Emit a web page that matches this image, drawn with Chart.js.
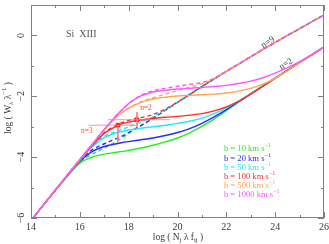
<!DOCTYPE html>
<html><head><meta charset="utf-8">
<script src="https://cdn.jsdelivr.net/npm/chart.js@4.4.0/dist/chart.umd.min.js"></script>
<style>html,body{margin:0;padding:0;background:#fff}#wrap{width:329px;height:244px;position:relative}</style>
</head><body><div id="wrap"><canvas id="c"></canvas></div>
<script>
// ---- data ----
const logN = [14, 15, 15.5, 16, 16.5, 17, 17.5, 17.75, 18, 18.5, 19, 19.5, 20, 20.5, 21, 21.5, 22, 22.5, 23, 23.5, 24, 24.5, 25, 25.5, 26];

// solid curves (n=2 damping)
const b10_n2   = [-6.08,-5.09,-4.62,-4.20,-4.00,-3.90,-3.84,-3.81,-3.78,-3.70,-3.61,-3.50,-3.37,-3.20,-2.99,-2.74,-2.47,-2.19,-1.92,-1.66,-1.40,-1.15,-0.89,-0.64,-0.38];
const b20_n2   = [-6.08,-5.09,-4.60,-4.14,-3.82,-3.65,-3.56,-3.52,-3.49,-3.43,-3.37,-3.29,-3.19,-3.06,-2.89,-2.68,-2.44,-2.18,-1.92,-1.66,-1.40,-1.15,-0.89,-0.64,-0.38];
const b50_n2   = [-6.08,-5.08,-4.59,-4.11,-3.67,-3.36,-3.20,-3.15,-3.11,-3.05,-3.00,-2.95,-2.89,-2.82,-2.72,-2.57,-2.38,-2.16,-1.91,-1.66,-1.40,-1.15,-0.89,-0.64,-0.38];
const b100_n2  = [-6.08,-5.08,-4.58,-4.09,-3.63,-3.22,-2.98,-2.90,-2.85,-2.78,-2.73,-2.69,-2.66,-2.62,-2.57,-2.48,-2.35,-2.17,-1.93,-1.67,-1.41,-1.15,-0.89,-0.64,-0.38];
const b500_n2  = [-6.08,-5.08,-4.58,-4.08,-3.59,-3.10,-2.68,-2.52,-2.39,-2.20,-2.09,-2.03,-1.99,-1.97,-1.95,-1.93,-1.89,-1.83,-1.74,-1.60,-1.41,-1.16,-0.90,-0.64,-0.38];
const b1000_n2 = [-6.08,-5.08,-4.58,-4.08,-3.58,-3.09,-2.63,-2.43,-2.24,-1.99,-1.86,-1.80,-1.76,-1.74,-1.71,-1.68,-1.64,-1.58,-1.50,-1.39,-1.24,-1.06,-0.86,-0.63,-0.38];

// dashed curves (n=9 damping)
const b10_n9   = [-6.08,-5.09,-4.60,-4.15,-3.90,-3.70,-3.48,-3.36,-3.22,-2.97,-2.72,-2.46,-2.20,-1.94,-1.68,-1.43,-1.18,-0.94,-0.70,-0.46,-0.23,0.00,0.22,0.45,0.67];
const b20_n9   = [-6.08,-5.09,-4.60,-4.11,-3.76,-3.56,-3.39,-3.30,-3.19,-2.96,-2.72,-2.46,-2.20,-1.94,-1.68,-1.43,-1.18,-0.94,-0.70,-0.46,-0.23,0.00,0.22,0.45,0.67];
const b50_n9   = [-6.08,-5.08,-4.59,-4.10,-3.64,-3.32,-3.15,-3.08,-3.00,-2.85,-2.67,-2.45,-2.20,-1.94,-1.68,-1.43,-1.18,-0.94,-0.70,-0.46,-0.23,0.00,0.22,0.45,0.67];
const b100_n9  = [-6.08,-5.08,-4.58,-4.09,-3.62,-3.20,-2.95,-2.86,-2.79,-2.70,-2.60,-2.42,-2.19,-1.94,-1.68,-1.43,-1.18,-0.94,-0.70,-0.46,-0.23,0.00,0.22,0.45,0.67];
const b500_n9  = [-6.08,-5.08,-4.58,-4.08,-3.59,-3.10,-2.68,-2.52,-2.39,-2.18,-2.05,-1.93,-1.81,-1.70,-1.59,-1.42,-1.18,-0.94,-0.70,-0.46,-0.23,0.00,0.22,0.45,0.67];
const b1000_n9 = [-6.08,-5.08,-4.58,-4.08,-3.58,-3.09,-2.63,-2.43,-2.24,-1.97,-1.82,-1.74,-1.67,-1.61,-1.55,-1.41,-1.18,-0.94,-0.70,-0.46,-0.23,0.00,0.22,0.45,0.67];

// red marked points (n=3, n=2) and their bars
const markX = [17.56, 18.34];
const markY = [-2.95, -2.77];
const barH1X = [16.35, 18.35], barH1Y = [-2.95, -2.95];
const barV1X = [17.56, 17.56], barV1Y = [-2.95, -3.52];
const barH2X = [17.15, 19.70], barH2Y = [-2.77, -2.77];
const barV2X = [18.34, 18.34], barV2Y = [-2.52, -3.00];

const bLabels = ['10', '20', '50', '100', '500', '1000'];
const xTickLabels = ['14', '16', '18', '20', '22', '24', '26'];
const yTickLabels = ['−6', '−4', '−2', '0'];
const yTickValues = [-6, -4, -2, 0];

// ---- build ----
const colors = ['#22ee22', '#2a2aff', '#22e8f0', '#ff2a2a', '#ffa64d', '#ff55ff'];
const solid = [b10_n2, b20_n2, b50_n2, b100_n2, b500_n2, b1000_n2];
const dashed = [b10_n9, b20_n9, b50_n9, b100_n9, b500_n9, b1000_n9];
const pts = (xs, ys) => xs.map((x, i) => ({x, y: ys[i]}));

const datasets = [];
const barColor = '#ff7a7a';
[[barH1X, barH1Y], [barV1X, barV1Y], [barH2X, barH2Y], [barV2X, barV2Y]].forEach(([xs, ys]) => {
  datasets.push({data: pts(xs, ys), showLine: true, borderColor: barColor, borderWidth: 0.8, pointRadius: 0, order: 0});
});
datasets.push({data: pts(markX, markY), showLine: false, pointStyle: 'rect', pointRadius: 2.6, backgroundColor: '#ff1a1a', borderColor: '#ff1a1a', order: 0});
solid.forEach((ys, i) => datasets.push({
  data: pts(logN, ys), showLine: true, borderColor: colors[i], borderWidth: 1.4,
  pointRadius: 0, cubicInterpolationMode: 'monotone', order: 6 - i
}));
dashed.forEach((ys, i) => datasets.push({
  data: pts(logN, ys), showLine: true, borderColor: colors[i], borderWidth: 1.4, borderDash: [4, 3],
  pointRadius: 0, cubicInterpolationMode: 'monotone', order: 12 - i
}));

const SERIF = '"Liberation Serif", "DejaVu Serif", serif';
const INK = '#3a3a3a';

function richText(ctx, x, y, parts, size, align) {
  let w = 0;
  const meas = parts.map(([t, m]) => { ctx.font = (m ? size * 0.7 : size) + 'px ' + SERIF; const mw = ctx.measureText(t).width; w += mw; return mw; });
  let cx = align === 'center' ? x - w / 2 : x;
  ctx.textAlign = 'left';
  parts.forEach(([t, m], i) => {
    ctx.font = (m ? size * 0.7 : size) + 'px ' + SERIF;
    const dy = m === -1 ? size * 0.3 : (m === 1 ? -size * 0.4 : 0);
    ctx.fillText(t, cx, y + dy);
    cx += meas[i];
  });
}

const decor = {
  id: 'decor',
  afterDatasetsDraw(chart) {
    const {ctx, chartArea: a, scales: {x, y}} = chart;
    ctx.save();
    ctx.strokeStyle = '#808080';
    ctx.lineWidth = 1;
    ctx.strokeRect(a.left + 0.5, a.top + 0.5, a.right - a.left - 1, a.bottom - a.top - 1);
    ctx.beginPath();
    for (let v = 14; v <= 26; v++) {
      const px = Math.round(x.getPixelForValue(v)) + 0.5;
      const L = v % 2 === 0 ? 6 : 3;
      ctx.moveTo(px, a.bottom); ctx.lineTo(px, a.bottom - L);
      ctx.moveTo(px, a.top); ctx.lineTo(px, a.top + L);
    }
    for (let v = -6; v <= 1; v++) {
      const py = Math.round(y.getPixelForValue(v)) + 0.5;
      const L = v % 2 === 0 ? 6 : 3;
      ctx.moveTo(a.left, py); ctx.lineTo(a.left + L, py);
      ctx.moveTo(a.right, py); ctx.lineTo(a.right - L, py);
    }
    ctx.stroke();

    ctx.textBaseline = 'middle';
    ctx.fillStyle = INK;
    richText(ctx, 178, 237, [['log ( N', 0], ['j', -1], [' λ f', 0], ['ij', -1], [' )', 0]], 9.5, 'center');
    ctx.save();
    ctx.translate(8, 108);
    ctx.rotate(-Math.PI / 2);
    richText(ctx, 0, 0, [['log ( W', 0], ['λ', -1], [' λ', 0], ['−1', 1], [' )', 0]], 9.5, 'center');
    ctx.restore();

    ctx.fillStyle = '#555';
    ctx.font = '10px ' + SERIF;
    ctx.textAlign = 'left';
    ctx.fillText('Si  XIII', x.getPixelForValue(15.43), y.getPixelForValue(0.02));

    bLabels.forEach((b, i) => {
      ctx.fillStyle = colors[i];
      richText(ctx, x.getPixelForValue(21.9), y.getPixelForValue(-3.74 - 0.3 * i), [['b = ' + b + ' km s', 0], ['−1', 1]], 8.6, 'left');
    });

    ctx.fillStyle = INK;
    ctx.font = '9px ' + SERIF;
    ctx.textAlign = 'center';
    [['n=9', 23.7, -0.23], ['n=2', 24.44, -0.94]].forEach(([t, vx, vy]) => {
      ctx.save();
      ctx.translate(x.getPixelForValue(vx), y.getPixelForValue(vy));
      ctx.rotate(-Math.atan(0.613));
      ctx.fillText(t, 0, 0);
      ctx.restore();
    });
    ctx.fillStyle = '#ff4a4a';
    ctx.font = '7.5px ' + SERIF;
    ctx.fillText('n=3', x.getPixelForValue(16.29), y.getPixelForValue(-3.13));
    ctx.fillText('n=2', x.getPixelForValue(18.71), y.getPixelForValue(-2.39));
    ctx.restore();
  }
};

new Chart(document.getElementById('c'), {
  type: 'scatter',
  data: {datasets},
  options: {
    responsive: true, maintainAspectRatio: false, animation: false,
    layout: {padding: {top: 1, right: 5, left: 0, bottom: 0}},
    plugins: {legend: {display: false}, tooltip: {enabled: false}},
    scales: {
      x: {
        type: 'linear', min: 14, max: 26,
        grid: {display: false, drawTicks: false}, border: {display: false},
        afterFit: s => { s.height = 26; s.paddingLeft = 0; s.paddingRight = 0; },
        ticks: {stepSize: 2, padding: 3, maxRotation: 0, color: INK, font: {family: SERIF, size: 10},
          callback: v => { const i = xTickLabels.indexOf(String(v)); return i >= 0 ? xTickLabels[i] : ''; }}
      },
      y: {
        type: 'linear', min: -6, max: 1,
        grid: {display: false, drawTicks: false}, border: {display: false},
        afterFit: s => { s.width = 31; s.paddingTop = 0; s.paddingBottom = 0; },
        ticks: {stepSize: 2, padding: 4, minRotation: 90, maxRotation: 90, crossAlign: 'center', color: INK, font: {family: SERIF, size: 10},
          callback: v => { const i = yTickValues.indexOf(v); return i >= 0 ? yTickLabels[i] : ''; }}
      }
    }
  },
  plugins: [decor]
});
</script></body></html>
